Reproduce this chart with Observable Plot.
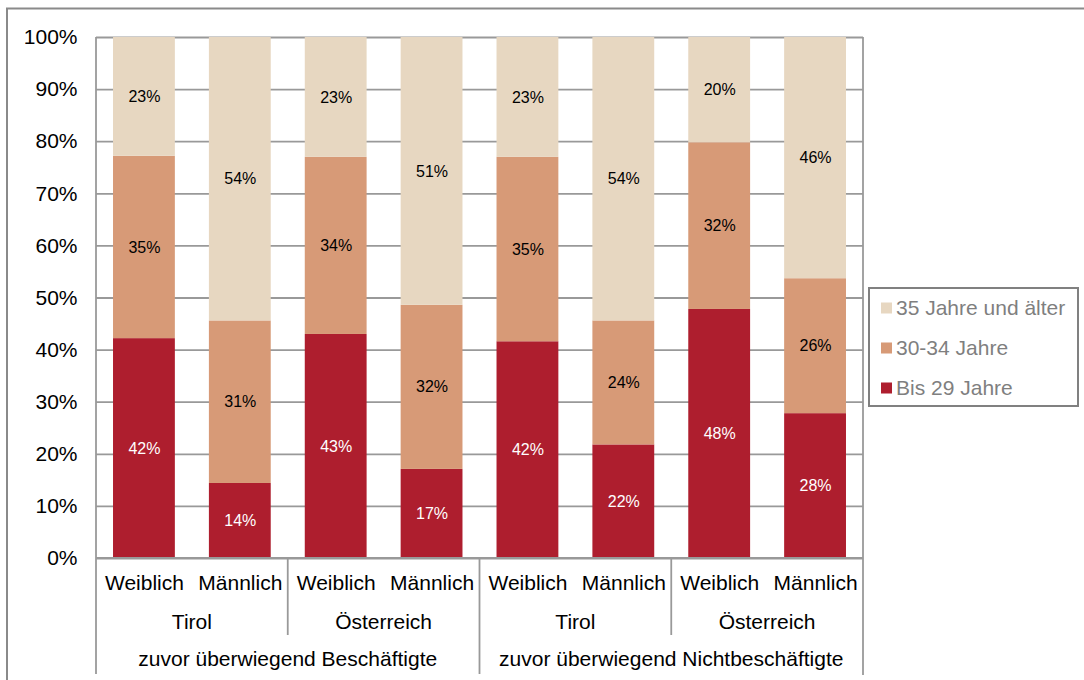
<!DOCTYPE html>
<html>
<head>
<meta charset="utf-8">
<script src="https://cdn.jsdelivr.net/npm/d3@7"></script>
<script src="https://cdn.jsdelivr.net/npm/@observablehq/plot@0.6"></script>
<style>
  html, body { margin: 0; padding: 0; background: white; }
</style>
</head>
<body>
<div id="chart"></div>
<script>
// ---- data ----
const groups = ["zuvor überwiegend Beschäftigte", "zuvor überwiegend Nichtbeschäftigte"];
const regions = ["Tirol", "Österreich"];
const genders = ["Weiblich", "Männlich"];
const ageClasses = ["Bis 29 Jahre", "30-34 Jahre", "35 Jahre und älter"];
const ageColors = ["#AE1E2E", "#D79A77", "#E7D7C1"];
// bar order: Besch/Tirol W, M, Besch/Österreich W, M, NB/Tirol W, M, NB/Österreich W, M
const bis29 = [42.2, 14.4, 43.0, 17.1, 41.6, 21.8, 47.8, 27.8];
const j3034 = [35.0, 31.2, 34.0, 31.5, 35.4, 23.8, 32.0, 25.9];
const ab35  = [22.8, 54.4, 23.0, 51.4, 23.0, 54.4, 20.2, 46.3];
const yTicks = [0, 10, 20, 30, 40, 50, 60, 70, 80, 90, 100];

// ---- table built from arrays ----
const bars = bis29.map((_, i) => ({
  key: "b" + i,
  group: groups[Math.floor(i / 4)],
  region: regions[Math.floor(i / 2) % 2],
  gender: genders[i % 2]
}));
const series = [bis29, j3034, ab35];
const rows = [];
bars.forEach((b, i) => {
  series.forEach((s, j) => rows.push({...b, age: ageClasses[j], value: s[i]}));
});
const keys = bars.map(b => b.key);
const genderOf = Object.fromEntries(bars.map(b => [b.key, b.gender]));
const FONT = "'Liberation Sans', Arial, sans-serif";
const AXFS = 21;

const plot = Plot.plot({
  width: 1084,
  height: 680,
  marginLeft: 96,
  marginRight: 221,
  marginTop: 37,
  marginBottom: 122,
  style: {fontFamily: FONT, background: "white", color: "black"},
  x: {domain: keys, paddingInner: 0.355, paddingOuter: 0.1775, round: false, axis: null},
  y: {domain: [0, 100], axis: null},
  color: {domain: ageClasses, range: ageColors},
  marks: [
    Plot.gridY(yTicks, {stroke: "#999999", strokeOpacity: 1, strokeWidth: 1.8}),
    Plot.axisY(yTicks, {tickFormat: d => d + "%", tickSize: 0, tickPadding: 19, fontSize: AXFS, fill: "black", label: null}),
    Plot.axisX({tickFormat: k => genderOf[k], tickSize: 0, tickPadding: 17, fontSize: AXFS, fill: "black", label: null}),
    Plot.barY(rows, Plot.stackY({x: "key", y: "value", fill: "age"})),
    Plot.text(rows, Plot.stackY({x: "key", y: "value",
      text: d => d.age === ageClasses[0] ? Math.round(d.value) + "%" : null,
      fill: "white", fontSize: 16})),
    Plot.text(rows, Plot.stackY({x: "key", y: "value",
      text: d => d.age !== ageClasses[0] ? Math.round(d.value) + "%" : null,
      fill: "black", fontSize: 16}))
  ]
});

// ---- hierarchical category axis, frame lines, legend, outer border ----
const svg = d3.select(plot);
const xs = plot.scale("x");
const ys = plot.scale("y");
const [xr0, xr1] = xs.range;
const center = k => xs.apply(k) + xs.bandwidth / 2;
const centers = keys.map(center);
const bounds = [xr0];
for (let i = 1; i < centers.length; i++) bounds.push((centers[i - 1] + centers[i]) / 2);
bounds.push(xr1);
const y0 = ys.apply(0), yTop = ys.apply(100);
const lineColor = "#999999";
const g = svg.append("g").attr("stroke", lineColor).attr("stroke-width", 1.8).attr("fill", "none");
// x axis base line
g.append("line").attr("x1", xr0).attr("x2", xr1).attr("y1", y0).attr("y2", y0);
// outer plot verticals + group separators
[[bounds[0], yTop, y0 + 116], [bounds[8], yTop, y0 + 117], [bounds[4], y0, y0 + 116],
 [bounds[2], y0, y0 + 77], [bounds[6], y0, y0 + 77]].forEach(([x, a, b]) =>
  g.append("line").attr("x1", x).attr("x2", x).attr("y1", a).attr("y2", b));

const t = svg.append("g").attr("font-family", FONT).attr("font-size", AXFS).attr("fill", "black")
  .attr("text-anchor", "middle");
// level 2: regions
for (let p = 0; p < 4; p++) {
  t.append("text").attr("x", (centers[2 * p] + centers[2 * p + 1]) / 2).attr("y", y0 + 64)
    .attr("dy", "0.35em").text(bars[2 * p].region);
}
// level 3: groups
for (let q = 0; q < 2; q++) {
  t.append("text").attr("x", (bounds[4 * q] + bounds[4 * q + 4]) / 2).attr("y", y0 + 101)
    .attr("dy", "0.35em").text(bars[4 * q].group);
}

// legend
const lg = svg.append("g").attr("font-family", FONT).attr("text-anchor", "start");
lg.append("rect").attr("x", 869).attr("y", 288).attr("width", 209).attr("height", 118)
  .attr("fill", "white").attr("stroke", "#808080").attr("stroke-width", 2);
const legendOrder = [ageClasses[2], ageClasses[1], ageClasses[0]];
legendOrder.forEach((a, i) => {
  const cy = 308 + i * 40;
  lg.append("rect").attr("x", 881).attr("y", cy - 5.5).attr("width", 11).attr("height", 11)
    .attr("fill", ageColors[ageClasses.indexOf(a)]);
  lg.append("text").attr("x", 896).attr("y", cy).attr("dy", "0.35em").attr("text-anchor", "start")
    .attr("font-size", 21).attr("fill", "#7f7f7f").text(a);
});

// outer chart border
svg.append("rect").attr("x", 7).attr("y", 8.5).attr("width", 1200).attr("height", 800)
  .attr("fill", "none").attr("stroke", "#8a8a8a").attr("stroke-width", 2);

document.getElementById("chart").appendChild(plot);
</script>
</body>
</html>
